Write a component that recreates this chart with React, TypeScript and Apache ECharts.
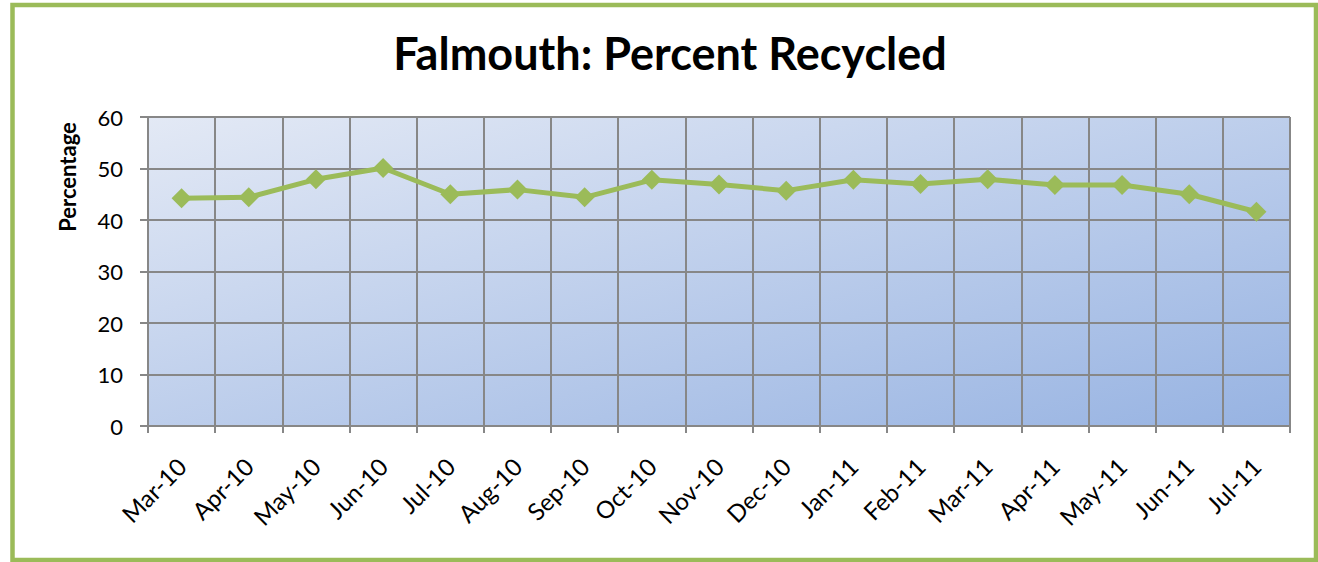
import React, { useEffect, useRef } from "react";
import * as echarts from "echarts";

const categories = ["Mar-10","Apr-10","May-10","Jun-10","Jul-10","Aug-10","Sep-10","Oct-10","Nov-10","Dec-10","Jan-11","Feb-11","Mar-11","Apr-11","May-11","Jun-11","Jul-11"];
const percentRecycled = [44.2,44.4,47.9,50.1,45.0,45.9,44.4,47.8,46.9,45.7,47.8,47.0,47.9,46.8,46.8,45.0,41.6];
const chartTitle = "Falmouth: Percent Recycled";
const yAxisTitle = "Percentage";

const FONT = "Lato, 'Open Sans', sans-serif";

export default function App() {
  const ref = useRef<HTMLDivElement>(null);
  useEffect(() => {
    if (!ref.current) return;
    const chart = echarts.init(ref.current, undefined, { renderer: "svg" });
    chart.setOption({
      animation: false,
      backgroundColor: "#ffffff",
      title: {
        text: chartTitle,
        left: 665,
        top: 25,
        textAlign: "center",
        textStyle: { fontFamily: FONT, fontSize: 45, fontWeight: "bold", color: "#000" },
      },
      graphic: [
        {
          type: "rect",
          shape: { x: 12.5, y: 5, width: 1303.5, height: 555 },
          style: { fill: "none", stroke: "#9BBB59", lineWidth: 4.5 },
          silent: true,
        },
        {
          type: "text",
          x: 67,
          y: 177,
          rotation: Math.PI / 2,
          style: {
            text: yAxisTitle,
            font: `bold 22px ${FONT}`,
            fill: "#000",
            textAlign: "center",
            textVerticalAlign: "middle",
          },
        },
      ],
      grid: {
        left: 148,
        top: 117,
        right: 28,
        bottom: 136,
        show: true,
        borderWidth: 0,
        backgroundColor: new echarts.graphic.LinearGradient(0, 0, 1, 1, [
          { offset: 0, color: "#E3E9F5" },
          { offset: 1, color: "#97B3E2" },
        ]),
      },
      xAxis: {
        type: "category",
        data: categories,
        boundaryGap: true,
        axisLine: { show: true, lineStyle: { color: "#878787", width: 2 } },
        axisTick: { show: true, length: 7, lineStyle: { color: "#878787", width: 2 } },
        splitLine: { show: true, lineStyle: { color: "#878787", width: 2 } },
        axisLabel: {
          rotate: 45,
          margin: 36,
          fontFamily: FONT,
          fontSize: 24,
          color: "#000",
          interval: 0,
        },
      },
      yAxis: {
        type: "value",
        min: 0,
        max: 60,
        interval: 10,
        axisLine: { show: true, lineStyle: { color: "#878787", width: 2 } },
        axisTick: { show: true, length: 8, lineStyle: { color: "#878787", width: 2 } },
        splitLine: { show: true, lineStyle: { color: "#878787", width: 2 } },
        axisLabel: { margin: 25, fontFamily: FONT, fontSize: 22, color: "#000" },
      },
      series: [
        {
          type: "line",
          data: percentRecycled,
          symbol: "diamond",
          symbolSize: 20,
          lineStyle: { color: "#9BBB59", width: 5 },
          itemStyle: { color: "#9BBB59" },
        },
      ],
    });
    return () => chart.dispose();
  }, []);
  return (
    <div
      ref={ref}
      style={{ position: "fixed", left: 0, top: 0, width: 1318, height: 562 }}
    />
  );
}
